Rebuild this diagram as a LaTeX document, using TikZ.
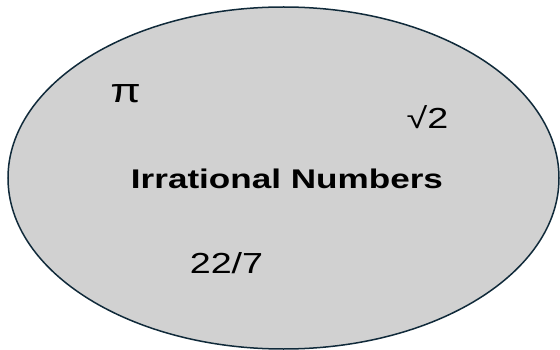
\documentclass[tikz,border=0pt]{standalone}
\usepackage{fontspec}
\setmainfont[FakeStretch=1.3]{Liberation Sans}
\usepackage{xcolor}
\usepackage{tikz}
\definecolor{setfill}{HTML}{D1D1D1}
\definecolor{setline}{HTML}{102A3A}
\tikzset{
  setarea/.style = {fill=setfill, draw=setline, line width=1.5pt},
  member/.style  = {font=\fontsize{29}{34}\selectfont, text=black,
                    inner sep=0pt, anchor=base},
  setname/.style = {member, font=\fontsize{27}{32}\selectfont\bfseries},
}

\begin{document}
\begin{tikzpicture}[x=1pt, y=-1pt]

    \useasboundingbox (0,0) rectangle (560,350);

    % ---------- the set -------------------------------------------------
    \coordinate (irr) at (283.5,178);
    \draw[setarea] (irr) ellipse (275.5 and 171);

    % ---------- label and members ---------------------------------------
    \node[setname] (name) at (287,189) {Irrational Numbers};
    \node[member, font=\fontsize{34}{40}\selectfont] (pi) at (125.5,103) {π};
    \node[member]  (rtwo) at (427.5,129) {√2};
    \node[member]  (frac) at (226.5,273) {22/7};

\end{tikzpicture}
\end{document}
